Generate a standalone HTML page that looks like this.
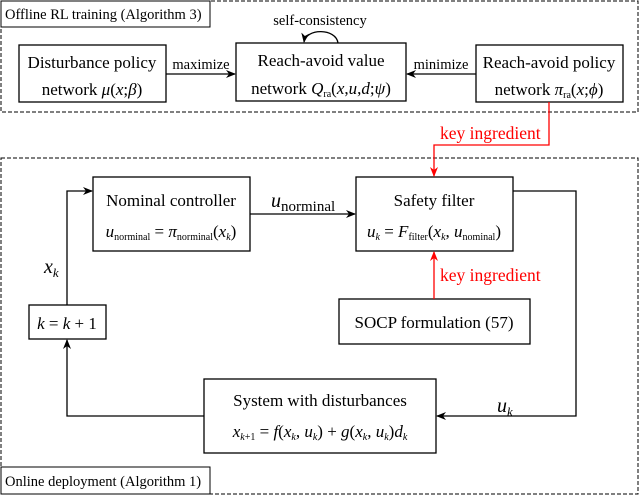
<!DOCTYPE html>
<html><head><meta charset="utf-8"><style>
body{margin:0;background:#fff}
svg{display:block}
text{font-family:"Liberation Serif",serif;fill:#000}
.i{font-style:italic}
</style></head><body>
<svg width="640" height="495" viewBox="0 0 640 495" xmlns="http://www.w3.org/2000/svg">
<defs>
<marker id="a" markerWidth="10" markerHeight="8" refX="9" refY="4" orient="auto" markerUnits="userSpaceOnUse"><path d="M0,0 L10,4 L0,8 L3,4 z" fill="#000"/></marker>
<marker id="r" markerWidth="10" markerHeight="8" refX="9" refY="4" orient="auto" markerUnits="userSpaceOnUse"><path d="M0,0 L10,4 L0,8 L3,4 z" fill="#f00"/></marker>
</defs>
<g fill="none" stroke="#000" stroke-width="1">
<rect x="1" y="1" width="637" height="111" stroke-dasharray="4,2"/>
<rect x="1" y="158" width="637" height="336" stroke-dasharray="4,2"/>
<rect x="1" y="1" width="209" height="26" fill="#fff"/>
<rect x="1" y="467" width="209" height="27" fill="#fff"/>
</g>
<g fill="#fff" stroke="#000" stroke-width="1.3">
<rect x="19" y="45" width="147" height="57"/>
<rect x="236" y="43" width="170" height="58"/>
<rect x="476" y="45" width="147" height="57"/>
<rect x="93" y="177" width="157" height="74"/>
<rect x="356" y="177" width="157" height="74"/>
<rect x="29" y="305" width="77" height="34"/>
<rect x="339" y="299" width="191" height="45"/>
<rect x="204" y="379" width="232" height="74"/>
</g>
<g fill="none" stroke="#000" stroke-width="1.3">
<line x1="166" y1="74" x2="235" y2="74" marker-end="url(#a)"/>
<line x1="476" y1="74" x2="407" y2="74" marker-end="url(#a)"/>
<path d="M338,43 C336,28 306,28 304,42" marker-end="url(#a)"/>
<line x1="250" y1="214" x2="355" y2="214" marker-end="url(#a)"/>
<polyline points="513,191 576,191 576,416 437,416" marker-end="url(#a)"/>
<polyline points="204,416 67,416 67,340" marker-end="url(#a)"/>
<polyline points="67,305 67,191 92,191" marker-end="url(#a)"/>
</g>
<g fill="none" stroke="#f00" stroke-width="1.3">
<polyline points="549,102 549,145 434,145 434,176" marker-end="url(#r)"/>
<line x1="434" y1="299" x2="434" y2="252" marker-end="url(#r)"/>
</g>
<g font-size="14.5">
<text x="5" y="19">Offline RL training (Algorithm 3)</text>
<text x="5" y="486">Online deployment (Algorithm 1)</text>
<text x="320" y="25" text-anchor="middle">self-consistency</text>
<text x="201" y="69" text-anchor="middle">maximize</text>
<text x="441" y="69" text-anchor="middle">minimize</text>
</g>
<g font-size="17" text-anchor="middle">
<text x="92" y="68">Disturbance policy</text>
<text x="92" y="95">network <tspan class="i">μ</tspan>(<tspan class="i">x</tspan>;<tspan class="i">β</tspan>)</text>
<text x="321" y="66">Reach-avoid value</text>
<text x="321" y="94">network <tspan class="i">Q</tspan><tspan font-size="10" dy="3">ra</tspan><tspan dy="-3">(</tspan><tspan class="i">x</tspan>,<tspan class="i">u</tspan>,<tspan class="i">d</tspan>;<tspan class="i">ψ</tspan>)</text>
<text x="549" y="68">Reach-avoid policy</text>
<text x="549" y="95">network <tspan class="i">π</tspan><tspan font-size="10" dy="3">ra</tspan><tspan dy="-3">(</tspan><tspan class="i">x</tspan>;<tspan class="i">ϕ</tspan>)</text>
<text x="171" y="206">Nominal controller</text>
<text x="171" y="237"><tspan class="i">u</tspan><tspan font-size="10" dy="3">norminal</tspan><tspan dy="-3"> = </tspan><tspan class="i">π</tspan><tspan font-size="10" dy="3">norminal</tspan><tspan dy="-3">(</tspan><tspan class="i">x</tspan><tspan font-size="10" dy="3" class="i">k</tspan><tspan dy="-3">)</tspan></text>
<text x="434" y="206">Safety filter</text>
<text x="434" y="237"><tspan class="i">u</tspan><tspan font-size="10" dy="3" class="i">k</tspan><tspan dy="-3"> = </tspan><tspan class="i">F</tspan><tspan font-size="10" dy="3">filter</tspan><tspan dy="-3">(</tspan><tspan class="i">x</tspan><tspan font-size="10" dy="3" class="i">k</tspan><tspan dy="-3">, </tspan><tspan class="i">u</tspan><tspan font-size="10" dy="3">nominal</tspan><tspan dy="-3">)</tspan></text>
<text x="434" y="328">SOCP formulation (57)</text>
<text x="67" y="329"><tspan class="i">k</tspan> = <tspan class="i">k</tspan> + 1</text>
<text x="320" y="406">System with disturbances</text>
<text x="320" y="437"><tspan class="i">x</tspan><tspan font-size="10" dy="3" class="i">k</tspan><tspan font-size="10">+1</tspan><tspan dy="-3"> = </tspan><tspan class="i">f</tspan>(<tspan class="i">x</tspan><tspan font-size="10" dy="3" class="i">k</tspan><tspan dy="-3">, </tspan><tspan class="i">u</tspan><tspan font-size="10" dy="3" class="i">k</tspan><tspan dy="-3">) + </tspan><tspan class="i">g</tspan>(<tspan class="i">x</tspan><tspan font-size="10" dy="3" class="i">k</tspan><tspan dy="-3">, </tspan><tspan class="i">u</tspan><tspan font-size="10" dy="3" class="i">k</tspan><tspan dy="-3">)</tspan><tspan class="i">d</tspan><tspan font-size="10" dy="3" class="i">k</tspan></text>
</g>
<g font-size="20">
<text x="271" y="207" class="i">u<tspan font-size="15" font-style="normal" dy="4">norminal</tspan></text>
<text x="44" y="273" class="i">x<tspan font-size="13" dy="4">k</tspan></text>
<text x="497" y="412" class="i">u<tspan font-size="13" dy="4">k</tspan></text>
</g>
<g font-size="17.5">
<text x="440" y="139" style="fill:#f00">key ingredient</text>
<text x="440" y="281" style="fill:#f00">key ingredient</text>
</g>
</svg>
</body></html>
